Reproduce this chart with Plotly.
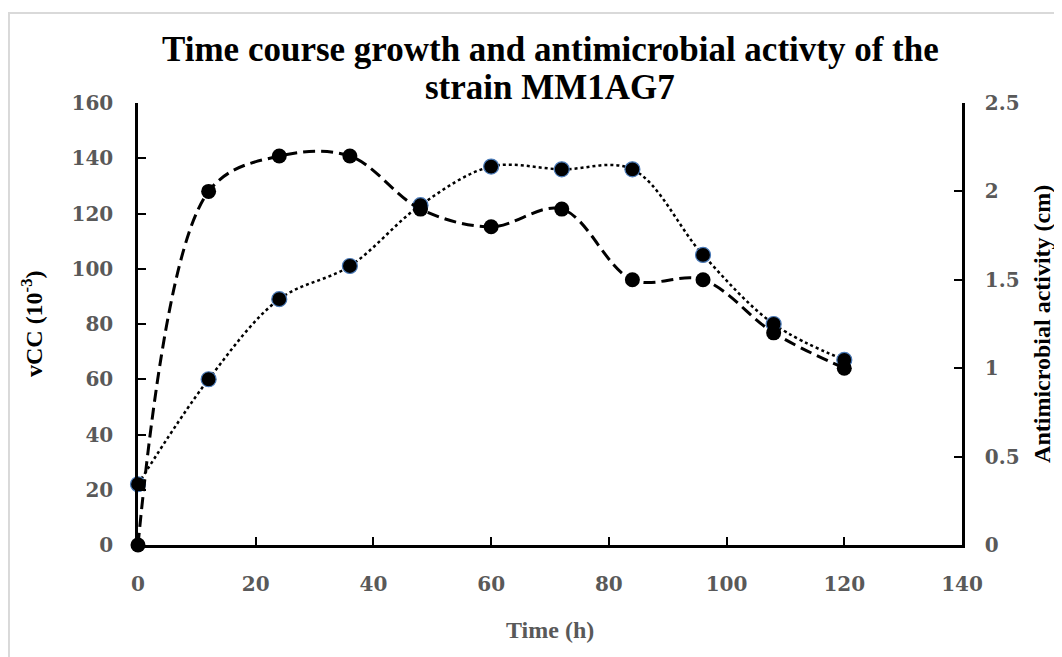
import plotly.graph_objects as go

# sampling times (h)
time_h = [0, 12, 24, 36, 48, 60, 72, 84, 96, 108, 120]
# viable cell count (x10^-3), left axis
vcc = [22, 60, 89, 101, 123, 137, 136, 136, 105, 80, 67]
# antimicrobial activity (cm), right axis
activity = [0, 2.0, 2.2, 2.2, 1.9, 1.8, 1.9, 1.5, 1.5, 1.2, 1.0]

x_ticks = [0, 20, 40, 60, 80, 100, 120, 140]
y1_ticks = [0, 20, 40, 60, 80, 100, 120, 140, 160]
y2_ticks = [0, 0.5, 1, 1.5, 2, 2.5]
y2_labels = ['0', '0.5', '1', '1.5', '2', '2.5']

title_lines = ['Time course growth and antimicrobial activty of the', 'strain MM1AG7']

SERIF = 'Liberation Serif'
TICKFONT = dict(family='DejaVu Serif', size=20, color='#595959', weight='bold')
TITLEFONT = dict(family=SERIF, size=35, color='black', weight='bold')

fig = go.Figure()
fig.add_trace(go.Scatter(
    x=time_h, y=vcc, mode='lines+markers', line_shape='spline', cliponaxis=False,
    line=dict(color='black', width=2.5, dash='dot'),
    marker=dict(color='black', size=15, line=dict(color='#4a7ab8', width=1.2)),
    yaxis='y', showlegend=False))
fig.add_trace(go.Scatter(
    x=time_h, y=activity, mode='lines+markers', line_shape='spline', cliponaxis=False,
    line=dict(color='black', width=3, dash='12px,6px'),
    marker=dict(color='black', size=15),
    yaxis='y2', showlegend=False))

axis_common = dict(showline=True, linecolor='black', linewidth=2.5, showgrid=False,
                   zeroline=False, ticks='inside', ticklen=8, tickwidth=2,
                   tickcolor='black', tickfont=TICKFONT)

# plot area is 824 x 442 px; paper offsets below are px / that size
fig.update_layout(
    width=1062, height=657,
    margin=dict(l=130, r=108, t=95, b=120),
    paper_bgcolor='white', plot_bgcolor='white',
    xaxis=dict(range=[0, 140], tickvals=x_ticks, ticklabelstandoff=19, **axis_common),
    yaxis=dict(range=[0, 160], tickvals=y1_ticks, ticklabelstandoff=18, **axis_common),
    yaxis2=dict(range=[0, 2.5], tickvals=y2_ticks, ticktext=y2_labels, overlaying='y',
                side='right', ticklabelstandoff=16, **axis_common),
    annotations=[
        dict(text=title_lines[0], xref='paper', yref='paper', x=0.5, y=1 + 53 / 442,
             xanchor='center', yanchor='middle', showarrow=False, font=TITLEFONT),
        dict(text=title_lines[1], xref='paper', yref='paper', x=0.5, y=1 + 15 / 442,
             xanchor='center', yanchor='middle', showarrow=False, font=TITLEFONT),
        dict(text='vCC (10<sup>-3</sup>)', xref='paper', yref='paper',
             x=-0.1286, y=0.5, xanchor='center', yanchor='middle',
             textangle=-90, showarrow=False,
             font=dict(family=SERIF, size=24, color='black', weight='bold')),
        dict(text='Antimicrobial activity (cm)', xref='paper', yref='paper',
             x=1.097, y=0.5, xanchor='center', yanchor='middle',
             textangle=-90, showarrow=False,
             font=dict(family=SERIF, size=24, color='black', weight='bold')),
        dict(text='Time (h)', xref='paper', yref='paper',
             x=0.5, y=-0.192, xanchor='center', yanchor='middle', showarrow=False,
             font=dict(family=SERIF, size=24, color='#595959', weight='bold')),
    ],
    shapes=[dict(type='rect', xref='paper', yref='paper',
                 x0=-0.1566, x1=1.3, y0=-0.5, y1=1.2036,
                 line=dict(color='#d9d9d9', width=2), layer='below')],
)

fig.write_html('out.html')
